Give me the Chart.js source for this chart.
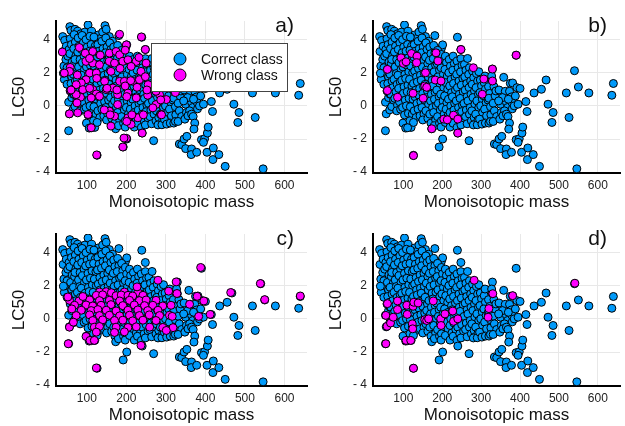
<!DOCTYPE html>
<html lang="en">
<head>
<meta charset="UTF-8">
<title>LC50 vs monoisotopic mass</title>
<style>
  body { margin: 0; background: #fff; }
  #wrap { position: relative; width: 625px; height: 426px; overflow: hidden; }
  canvas { position: absolute; }
</style>
<script src="https://cdn.jsdelivr.net/npm/chart.js"></script>
</head>
<body>
<div id="wrap">
  <canvas id="panel-a" width="312" height="213" style="left:0;top:0"></canvas>
  <canvas id="panel-b" width="308" height="213" style="left:317px;top:0"></canvas>
  <canvas id="panel-c" width="312" height="213" style="left:0;top:213px"></canvas>
  <canvas id="panel-d" width="308" height="213" style="left:317px;top:213px"></canvas>
</div>
<script>
const xTicks = [100, 200, 300, 400, 500, 600];
const yTicks = [-4, -2, 0, 2, 4];
const seriesNames = ['Correct class', 'Wrong class'];
const panelNames = ['a)', 'b)', 'c)', 'd)'];

// every compound: [monoisotopic mass, LC50]
const allPoints = [
  // upper fringe
  [39,4.18],[44,3.95],[57,4.78],[60,4.55],[66,4.2],[70,4.62],[77,4.5],[85,4.35],[90,4.0],[95,4.45],
  [103,4.88],[112,4.5],[117,3.88],[128,3.98],[129,4.28],[136,4.08],[140,4.45],[146,4.84],[149,4.62],
  [157,4.18],[165,3.9],[181,4.24],[198,3.48],[201,3.68],[239,4.14],[248,3.4],[184,3.18],[40,3.28],
  // left edge
  [42,2.4],[43,1.6],[45,2.0],[47,2.8],[50,1.3],[52,3.0],[54,0.22],[56,-0.48],[54,-1.5],[58,0.9],
  [65,-0.24],[70,-0.04],[62,0.5],[48,3.6],[55,3.4],[50,2.3],[41,1.97],
  // dense core
  [58,4.05],[61,3.7],[57,3.15],[63,2.65],[59,2.2],[62,1.75],[60,1.35],[64,1.0],[66,0.7],
  [68,4.3],[71,3.85],[67,3.45],[72,3.0],[69,2.55],[74,2.15],[66,1.9],[71,1.5],[73,1.1],[68,0.7],[75,0.35],[70,2.8],
  [78,4.1],[80,3.6],[77,3.25],[83,2.8],[79,2.35],[82,1.95],[76,1.6],[84,1.3],[81,0.85],[78,0.45],[85,0.05],[83,-0.3],
  [88,4.25],[91,3.8],[87,3.4],[93,3.0],[89,2.6],[94,2.2],[86,1.85],[92,1.45],[88,1.05],[95,0.65],[90,0.25],[93,-0.2],
  [98,4.0],[101,3.55],[97,3.2],[103,2.75],[99,2.35],[104,1.9],[96,1.55],[102,1.15],[100,0.75],[105,0.35],[98,-0.1],[103,-0.55],[99,-1.04],
  [108,4.2],[111,3.7],[107,3.3],[113,2.9],[109,2.45],[114,2.05],[106,1.65],[112,1.25],[110,0.85],[115,0.45],[108,0.0],[113,-0.45],[106,-1.34],
  [118,4.15],[121,3.6],[117,3.35],[123,2.85],[119,2.4],[124,2.0],[116,1.6],[122,1.2],[120,0.8],[125,0.4],[118,-0.05],[123,-0.5],[120,-1.3],[117,-0.9],
  [128,3.7],[131,3.3],[127,2.95],[133,2.5],[129,2.1],[134,1.75],[126,1.35],[132,0.95],[130,0.55],[135,0.15],[128,-0.3],[133,-0.7],[126,-1.0],
  [138,3.9],[141,3.45],[137,3.05],[143,2.65],[139,2.25],[144,1.85],[136,1.45],[142,1.05],[140,0.65],[145,0.25],[138,-0.2],[143,-0.6],
  [148,4.1],[151,3.55],[147,3.2],[153,2.75],[149,2.35],[154,1.95],[146,1.55],[152,1.15],[150,0.75],[155,0.35],[148,-0.1],[153,-0.5],[150,-0.85],
  [158,3.8],[161,3.4],[157,2.95],[163,2.55],[159,2.15],[164,1.75],[156,1.3],[162,0.9],[160,0.5],[165,0.1],[158,-0.3],[163,-0.75],
  [168,3.55],[171,3.15],[167,2.75],[173,2.3],[169,1.95],[174,1.55],[166,1.1],[172,0.7],[170,0.3],[175,-0.1],[168,-0.5],[171,-1.04],[173,-1.38],
  [178,3.65],[181,3.2],[177,2.85],[183,2.45],[179,2.05],[184,1.6],[176,1.2],[182,0.8],[180,0.4],[185,0.0],[178,-0.4],[183,-0.85],[180,-1.2],
  [188,3.35],[191,2.9],[187,2.55],[193,2.15],[189,1.75],[194,1.35],[186,0.95],[192,0.55],[190,0.15],[195,-0.25],[188,-0.65],[193,-1.05],
  [198,3.1],[201,2.7],[197,2.3],[203,1.9],[199,1.5],[204,1.1],[196,0.7],[202,0.3],[200,-0.1],[205,-0.5],[198,-0.9],[197,-1.28],[201,-2.0],[192,-2.48],
  [208,3.0],[211,2.6],[207,2.2],[213,1.8],[209,1.4],[214,1.0],[206,0.6],[212,0.2],[210,-0.2],[215,-0.6],[208,-1.0],
  [218,2.8],[221,2.4],[217,2.0],[223,1.6],[219,1.2],[224,0.8],[216,0.4],[222,0.0],[220,-0.4],[225,-0.85],[220,-1.28],
  [228,3.0],[231,2.55],[227,2.15],[233,1.75],[229,1.35],[234,0.95],[226,0.55],[232,0.15],[230,-0.25],[235,-0.65],[228,-1.05],
  [238,2.7],[241,2.3],[237,1.9],[243,1.5],[239,1.1],[244,0.7],[236,0.3],[242,-0.1],[240,-0.5],[245,-0.9],[238,-1.3],[240,-1.64],
  [248,2.85],[251,2.45],[247,2.05],[253,1.65],[249,1.25],[254,0.85],[246,0.45],[252,0.05],[250,-0.35],[255,-0.75],[248,-1.15],
  [257,2.5],[261,2.15],[258,1.75],[263,1.35],[259,0.95],[264,0.55],[256,0.15],[262,-0.25],[260,-0.65],[264,-1.08],
  [265,2.86],[270,2.3],[268,1.9],[273,1.5],[269,1.1],[274,0.7],[266,0.3],[272,-0.1],[270,-0.5],[275,-0.9],[269,-2.1],
  [278,2.1],[281,1.7],[277,1.3],[283,0.9],[279,0.5],[284,0.1],[276,-0.3],[282,-0.7],[280,-1.15],
  [288,1.95],[294,2.06],[291,1.5],[287,1.1],[293,0.7],[289,0.3],[294,-0.1],[286,-0.5],[292,-0.85],[290,-1.14],
  [298,1.56],[301,1.2],[297,0.8],[303,0.4],[299,0.0],[304,-0.4],[296,-0.8],[302,-1.1],
  [308,1.4],[311,1.0],[307,0.6],[313,0.2],[309,-0.2],[314,-0.6],[311,-1.04],[310,1.8],
  [319,1.16],[322,0.75],[318,0.35],[324,-0.05],[320,0.46],[325,-0.54],[320,-1.04],[324,-0.94],
  [333,1.16],[331,0.16],[336,0.6],[334,-0.3],[340,-0.64],[331,-0.94],[338,0.9],[329,2.22],[329,1.52],[327,1.8],
  // x 340-400
  [346,0.96],[350,0.1],[358,1.72],[362,0.88],[365,0.22],[368,-0.1],[373,0.88],[375,1.36],[378,0.54],[379,0.22],
  [380,-0.18],[355,0.5],[352,-0.4],[360,-0.3],[370,0.4],[385,0.0],[345,0.3],[348,-0.8],[356,-0.6],[365,-0.5],
  [369,-0.64],[373,-1.04],[371,-1.4],[390,3.05],[381,1.38],[392,1.1],[400,1.05],[388,0.6],[395,0.1],
  // lower tail
  [334,-2.3],[340,-2.34],[346,-2.0],[353,-1.84],[350,-2.58],[365,-2.6],[364,-2.94],[378,-2.8],[390,-2.04],[398,-1.98],
  [395,-2.2],[405,-1.64],[407,-1.28],[404,-2.8],[420,-2.54],[419,-3.24],[434,-2.94],[450,-3.65],[415,0.26],[418,-0.34],
  // heavy compounds
  [436,0.78],[455,1.0],[467,1.56],[472,0.1],[485,-0.4],[482,-1.0],[519,0.78],[526,-0.7],[540,2.12],[550,1.14],
  [577,0.78],[546,-3.8],[636,0.64],[640,1.35],
  [126,-2.98],[111,-1.32]
];

// misclassified compounds, one list per panel
const wrongA = [
  [38,3.25],[81,3.52],[58,2.32],[56,2.08],[43,1.98],[58,0.92],[84,0.52],[75,0.18],[56,-0.48],[96,3.18],
  [115,3.28],[132,3.08],[157,3.18],[174,3.28],[183,3.08],[98,2.68],[115,2.58],[132,2.48],[157,2.68],[170,2.58],
  [191,2.68],[204,2.78],[225,2.68],[237,2.08],[250,2.58],[107,1.98],[124,1.98],[145,1.48],[161,2.08],[183,1.48],
  [195,1.48],[216,1.48],[233,1.58],[115,0.98],[124,0.72],[132,0.58],[111,0.48],[149,0.98],[166,1.08],[178,0.68],
  [204,0.78],[225,0.48],[254,0.64],[275,0.08],[301,0.38],[284,0.68],[255,1.28],[275,0.88],[178,0.08],[157,-0.32],
  [170,-0.62],[204,-0.72],[229,-0.72],[212,-1.12],[240,-1.64],[267,-0.12],[288,-0.52],[111,-1.32],[125,-2.96],[191,-2.48],
  [200,-1.96],[161,-1.22],[238,4.16],[183,4.32],[248,3.4],[200,3.68],[212,2.38],[232,2.92],[98,1.58],[86,1.38],
  [73,1.28],[90,0.98],[73,0.68],[103,-0.52],[77,-0.42],[248,1.76],[252,0.96],[324,0.8],[287,0.36],[243,-0.54],
  [289,-0.54],[60,0.96],[76,1.86],[107,2.86],[134,3.06],[125,1.66],[107,1.06],[151,1.06],[144,-0.24],[159,-0.54],
  [197,3.36],[184,2.26],[211,1.52],[197,1.2],[176,0.96],[201,0.56],[227,1.12],[214,-0.54],[201,-0.94],[194,-1.94]
];
const wrongB = [
  [59,2.2],[59,0.92],[85,0.52],[94,2.9],[100,2.56],[107,2.66],[121,3.16],[135,3.0],[134,2.6],[125,0.76],
  [151,0.46],[155,1.2],[157,2.0],[160,1.12],[182,1.56],[184,3.2],[197,1.5],[189,2.7],[248,3.4],[280,2.3],
  [307,1.62],[329,2.22],[329,1.5],[303,0.7],[390,3.06],[173,-1.38],[204,-0.8],[213,-0.84],[229,-0.56],[240,-0.8],
  [240,-1.64],[126,-3.0]
];
const wrongC = [
  [132,1.62],[149,1.64],[162,1.58],[195,1.62],[229,1.6],
  [124,1.42],[140,1.45],[174,1.4],[187,1.44],[204,1.42],[216,1.38],[242,1.42],
  [56,1.12],[80,1.08],[107,1.14],[132,1.1],[157,1.12],[183,1.08],[208,1.12],[233,1.1],[250,1.14],[275,1.12],
  [69,0.82],[98,0.84],[115,0.78],[136,0.82],[161,0.86],[191,0.8],[220,0.84],[246,0.8],[267,0.82],[292,0.78],[313,0.82],
  [86,0.52],[111,0.5],[128,0.56],[149,0.52],[174,0.48],[204,0.52],[229,0.54],[254,0.5],[280,0.52],
  [73,0.2],[107,0.24],[132,0.2],[157,0.22],[183,0.18],[208,0.22],[233,0.2],[258,0.24],[284,0.2],[309,0.22],
  [115,-0.1],[140,-0.06],[170,-0.1],[191,-0.08],[216,-0.12],[242,-0.08],[275,-0.1],
  [119,-0.5],[132,-0.46],[174,-0.5],[204,-0.52],[225,-0.48],[259,-0.5],[292,-0.52],[318,-0.53],
  [124,-0.8],[170,-0.82],[195,-0.78],[301,-0.7],
  [237,-1.6],[124,-2.96],[53,-1.5],[56,-0.5],[52,1.32],[98,-1.06],[108,-1.3],[119,-1.3],[388,3.1],[464,1.59],
  [539,2.13],[550,1.16],[640,1.38],[412,0.27],[396,1.08],[379,1.36],[360,0.88],[383,0.15],[326,2.23],[328,1.53],
  [307,1.67],[280,2.33],[316,0.15],[227,1.93],[62,0.6],[90,1.35],[66,-0.2]
];
const wrongD = [
  [59,0.92],[55,0.21],[58,-0.45],[55,-1.5],[67,-0.25],[74,0.1],[85,1.08],[85,0.56],[109,0.82],[110,0.27],
  [125,0.76],[127,1.0],[123,-0.3],[124,-0.6],[138,0.96],[107,-1.3],[119,-1.3],[126,-2.98],[177,1.08],[155,-0.05],
  [160,-0.1],[165,0.0],[196,0.0],[197,-0.4],[207,0.3],[227,0.47],[229,-0.15],[240,0.0],[282,2.33],[330,1.52],
  [320,0.62],[318,0.1],[381,1.4],[541,2.15]
];

const FONT = "'Liberation Sans', Arial, Helvetica, sans-serif";
const BLUE = '#009AFA';
const MAGENTA = '#FF00FF';

function toXY(list) {
  return list.map(p => ({ x: p[0], y: p[1] }));
}

// panel letter in the upper right corner
const panelLabel = {
  id: 'panelLabel',
  afterDraw(chart, args, opts) {
    const ctx = chart.ctx, a = chart.chartArea;
    ctx.save();
    ctx.font = '21px ' + FONT;
    ctx.fillStyle = '#111';
    ctx.textAlign = 'right';
    ctx.textBaseline = 'middle';
    ctx.fillText(opts.text, a.right - 13, a.top + 5);
    ctx.restore();
  }
};

// boxed legend inside the plot (panel a only)
const boxLegend = {
  id: 'boxLegend',
  afterDraw(chart, args, opts) {
    if (!opts.show) return;
    const ctx = chart.ctx, a = chart.chartArea;
    const w = 136, h = 48;
    const left = a.right - 20 - w, top = a.top + 22;
    ctx.save();
    ctx.fillStyle = '#fff';
    ctx.fillRect(left, top, w, h);
    ctx.strokeStyle = '#444';
    ctx.lineWidth = 1;
    ctx.strokeRect(left + 0.5, top + 0.5, w, h);
    chart.data.datasets.slice().reverse().forEach((ds, i) => {
      const cy = top + 16 + i * 16;
      ctx.beginPath();
      ctx.arc(left + 29, cy, 6, 0, Math.PI * 2);
      ctx.fillStyle = ds.backgroundColor;
      ctx.fill();
      ctx.strokeStyle = '#000';
      ctx.stroke();
      ctx.fillStyle = '#111';
      ctx.font = '14px ' + FONT;
      ctx.textAlign = 'left';
      ctx.textBaseline = 'middle';
      ctx.fillText(ds.label, left + 50, cy + 1);
    });
    ctx.restore();
  }
};

function makePanel(id, wrong, name, showLegend, padRight) {
  new Chart(document.getElementById(id), {
    type: 'scatter',
    data: {
      datasets: [
        {
          label: seriesNames[1],
          data: toXY(wrong),
          backgroundColor: MAGENTA,
          borderColor: '#000',
          borderWidth: 1,
          pointRadius: 4,
          order: 0
        },
        {
          label: seriesNames[0],
          data: toXY(allPoints),
          backgroundColor: BLUE,
          borderColor: '#000',
          borderWidth: 1,
          pointRadius: 4,
          order: 1
        }
      ]
    },
    options: {
      responsive: false,
      animation: false,
      devicePixelRatio: 1,
      events: [],
      layout: { padding: { top: 21, right: padRight, left: 0, bottom: 0 } },
      scales: {
        x: {
          type: 'linear',
          min: 22,
          max: 657,
          afterBuildTicks: s => { s.ticks = xTicks.map(v => ({ value: v })); },
          afterFit: s => { s.height = 40; },
          grid: { color: '#e8e8e8', drawTicks: false },
          border: { color: '#000', width: 2 },
          ticks: { padding: 5, color: '#222', maxRotation: 0, font: { family: FONT, size: 12 } },
          title: {
            display: true, text: 'Monoisotopic mass', color: '#111',
            font: { family: FONT, size: 17, lineHeight: 1.2 }, padding: { top: 0, bottom: 0 }
          }
        },
        y: {
          min: -4.05,
          max: 5.12,
          afterBuildTicks: s => { s.ticks = yTicks.map(v => ({ value: v })); },
          afterFit: s => { s.width = 56; },
          grid: { color: '#e8e8e8', drawTicks: false },
          border: { color: '#000', width: 2 },
          ticks: {
            padding: 6, color: '#222', font: { family: FONT, size: 12 },
            callback: v => v < 0 ? '- ' + Math.abs(v) : String(v)
          },
          title: {
            display: true, text: 'LC50', color: '#111',
            font: { family: FONT, size: 17, lineHeight: 1.2 }, padding: { top: 9, bottom: 0 }
          }
        }
      },
      plugins: {
        legend: { display: false },
        tooltip: { enabled: false },
        panelLabel: { text: name },
        boxLegend: { show: showLegend }
      }
    },
    plugins: [panelLabel, boxLegend]
  });
}

makePanel('panel-a', wrongA, panelNames[0], true, 5);
makePanel('panel-b', wrongB, panelNames[1], false, 1);
makePanel('panel-c', wrongC, panelNames[2], false, 5);
makePanel('panel-d', wrongD, panelNames[3], false, 1);
</script>
</body>
</html>
